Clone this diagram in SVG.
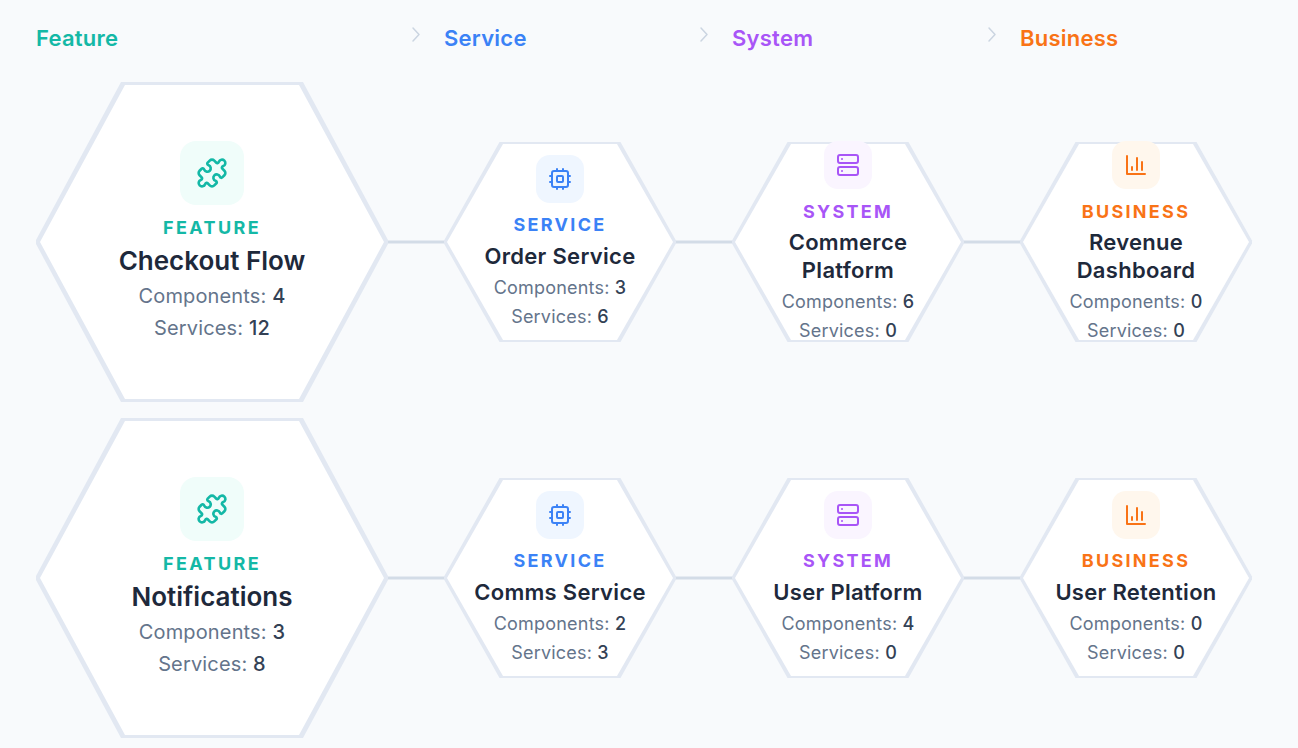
<svg xmlns="http://www.w3.org/2000/svg" width="1298" height="748" viewBox="0 0 1298 748">
<style>
text{font-family:Inter,"Liberation Sans",sans-serif;text-anchor:middle}
.hdr{font-size:22px;font-weight:600;text-anchor:start;letter-spacing:.25px}
.lab{font-weight:700;font-size:18px}
.lab.l{letter-spacing:2.4px}.lab.s{letter-spacing:2.3px}
.t{font-weight:600;fill:#1e293b}
.t.l{font-size:26px}.t.s{font-size:22px;letter-spacing:.3px}
.c{fill:#64748b}
.c.l{font-size:20px;letter-spacing:.15px}.c.s{font-size:18px;letter-spacing:.2px}
.c tspan{fill:#334155;font-weight:500}
.teal{fill:#14b8a6}.blue{fill:#3b82f6}.purple{fill:#a855f7}.orange{fill:#f97316}
.hb{fill:#e2e8f2}.hw{fill:#fff}
.ico{fill:none;stroke-width:2;stroke-linecap:round;stroke-linejoin:round}
.conn{stroke:#d3dce7;stroke-width:3;fill:none}
.chev{stroke:#cbd5e1;stroke-width:1.5;fill:none;stroke-linecap:round;stroke-linejoin:round}
</style>
<defs>
<g id="hexL"><polygon class="hb" points="-176,-2 -91,-160 91,-160 176,-2 176,2 91,160 -91,160 -176,2"/><polygon class="hw" points="-172,0 -87,-157 87,-157 172,0 87,157 -87,157"/></g>
<g id="hexS"><polygon class="hb" points="-116,-1.500 -60.500,-100 60.500,-100 116,-1.500 116,1.500 60.500,100 -60.500,100 -116,1.500"/><polygon class="hw" points="-113,0 -57,-98 57,-98 113,0 57,98 -57,98"/></g>
<g id="puzzle" class="ico" stroke="#14b8a6" transform="scale(1.3333)"><path d="M19.439 7.85c-.049.322.059.648.289.878l1.568 1.568c.47.47.706 1.087.706 1.704s-.235 1.233-.706 1.704l-1.611 1.611a.98.98 0 0 1-.837.276c-.47-.07-.802-.48-.968-.925a2.501 2.501 0 1 0-3.214 3.214c.446.166.855.497.925.968a.979.979 0 0 1-.276.837l-1.61 1.61a2.404 2.404 0 0 1-1.705.707 2.402 2.402 0 0 1-1.704-.706l-1.568-1.568a1.026 1.026 0 0 0-.877-.29c-.493.074-.84.504-1.02.968a2.5 2.5 0 1 1-3.237-3.237c.464-.18.894-.527.967-1.02a1.026 1.026 0 0 0-.289-.877l-1.568-1.568A2.402 2.402 0 0 1 1.998 12c0-.617.236-1.234.706-1.704L4.23 8.77c.24-.24.581-.353.917-.303.515.077.877.528 1.073 1.01a2.5 2.5 0 1 0 3.259-3.259c-.482-.196-.933-.558-1.01-1.073-.05-.336.062-.676.303-.917l1.525-1.525A2.402 2.402 0 0 1 12 1.998c.617 0 1.234.236 1.704.706l1.568 1.568c.23.23.556.338.877.29.493-.074.84-.504 1.02-.968a2.5 2.5 0 1 1 3.237 3.237c-.464.18-.894.527-.967 1.02Z"/></g>
<g id="cpu" class="ico" stroke="#3b82f6"><rect x="4" y="4" width="16" height="16" rx="2"/><rect x="9" y="9" width="6" height="6" rx="1"/><path d="M15 2v2M15 20v2M2 15h2M2 9h2M20 15h2M20 9h2M9 2v2M9 20v2"/></g>
<g id="server" class="ico" stroke="#a855f7"><rect x="2" y="2" width="20" height="8" rx="2"/><rect x="2" y="14" width="20" height="8" rx="2"/><path d="M6 6h.01M6 18h.01"/></g>
<g id="chart" class="ico" stroke="#f97316"><path d="M3 3v18h18M18 17V9M13 17V5M8 17v-3"/></g>
</defs>
<rect width="1298" height="748" fill="#f8fafc"/>
<g id="header">
<text class="hdr teal" x="36" y="46">Feature</text>
<path class="chev" d="M413 28l6 6.500-6 6.500"/>
<text class="hdr blue" x="444" y="46">Service</text>
<path class="chev" d="M701 28l6 6.500-6 6.500"/>
<text class="hdr purple" x="732" y="46">System</text>
<path class="chev" d="M989 28l6 6.500-6 6.500"/>
<text class="hdr orange" x="1020" y="46">Business</text>
</g>
<g id="connectors">
<path class="conn" d="M386 242H446M674 242H734M962 242H1022M386 578H446M674 578H734M962 578H1022"/>
</g>
<g id="n-checkout">
<use href="#hexL" x="212" y="242"/>
<rect x="180" y="141" width="64" height="64" rx="16" fill="#f0fdfa"/>
<use href="#puzzle" transform="translate(196 157)"/>
<text class="lab l teal" x="212" y="234">FEATURE</text>
<text class="t l" x="212" y="270">Checkout Flow</text>
<text class="c l" x="212" y="303">Components: <tspan>4</tspan></text>
<text class="c l" x="212" y="335">Services: <tspan>12</tspan></text>
</g>
<g id="n-notifications">
<use href="#hexL" x="212" y="578"/>
<rect x="180" y="477" width="64" height="64" rx="16" fill="#f0fdfa"/>
<use href="#puzzle" transform="translate(196 493)"/>
<text class="lab l teal" x="212" y="570">FEATURE</text>
<text class="t l" x="212" y="606">Notifications</text>
<text class="c l" x="212" y="639">Components: <tspan>3</tspan></text>
<text class="c l" x="212" y="671">Services: <tspan>8</tspan></text>
</g>
<g id="n-order">
<use href="#hexS" x="560" y="242"/>
<rect x="536" y="155" width="48" height="48" rx="14" fill="#eff6ff"/>
<use href="#cpu" x="548" y="167"/>
<text class="lab s blue" x="560" y="231">SERVICE</text>
<text class="t s" x="560" y="264">Order Service</text>
<text class="c s" x="560" y="294">Components: <tspan>3</tspan></text>
<text class="c s" x="560" y="323">Services: <tspan>6</tspan></text>
</g>
<g id="n-comms">
<use href="#hexS" x="560" y="578"/>
<rect x="536" y="491" width="48" height="48" rx="14" fill="#eff6ff"/>
<use href="#cpu" x="548" y="503"/>
<text class="lab s blue" x="560" y="567">SERVICE</text>
<text class="t s" x="560" y="600">Comms Service</text>
<text class="c s" x="560" y="630">Components: <tspan>2</tspan></text>
<text class="c s" x="560" y="659">Services: <tspan>3</tspan></text>
</g>
<g id="n-commerce">
<use href="#hexS" x="848" y="242"/>
<rect x="824" y="141" width="48" height="48" rx="14" fill="#faf5ff"/>
<use href="#server" x="836" y="153"/>
<text class="lab s purple" x="848" y="218">SYSTEM</text>
<text class="t s" x="848" y="250">Commerce</text>
<text class="t s" x="848" y="278">Platform</text>
<text class="c s" x="848" y="308">Components: <tspan>6</tspan></text>
<text class="c s" x="848" y="337">Services: <tspan>0</tspan></text>
</g>
<g id="n-userplatform">
<use href="#hexS" x="848" y="578"/>
<rect x="824" y="491" width="48" height="48" rx="14" fill="#faf5ff"/>
<use href="#server" x="836" y="503"/>
<text class="lab s purple" x="848" y="567">SYSTEM</text>
<text class="t s" x="848" y="600">User Platform</text>
<text class="c s" x="848" y="630">Components: <tspan>4</tspan></text>
<text class="c s" x="848" y="659">Services: <tspan>0</tspan></text>
</g>
<g id="n-revenue">
<use href="#hexS" x="1136" y="242"/>
<rect x="1112" y="141" width="48" height="48" rx="14" fill="#fff7ed"/>
<use href="#chart" x="1124" y="153"/>
<text class="lab s orange" x="1136" y="218">BUSINESS</text>
<text class="t s" x="1136" y="250">Revenue</text>
<text class="t s" x="1136" y="278">Dashboard</text>
<text class="c s" x="1136" y="308">Components: <tspan>0</tspan></text>
<text class="c s" x="1136" y="337">Services: <tspan>0</tspan></text>
</g>
<g id="n-retention">
<use href="#hexS" x="1136" y="578"/>
<rect x="1112" y="491" width="48" height="48" rx="14" fill="#fff7ed"/>
<use href="#chart" x="1124" y="503"/>
<text class="lab s orange" x="1136" y="567">BUSINESS</text>
<text class="t s" x="1136" y="600">User Retention</text>
<text class="c s" x="1136" y="630">Components: <tspan>0</tspan></text>
<text class="c s" x="1136" y="659">Services: <tspan>0</tspan></text>
</g>
</svg>
